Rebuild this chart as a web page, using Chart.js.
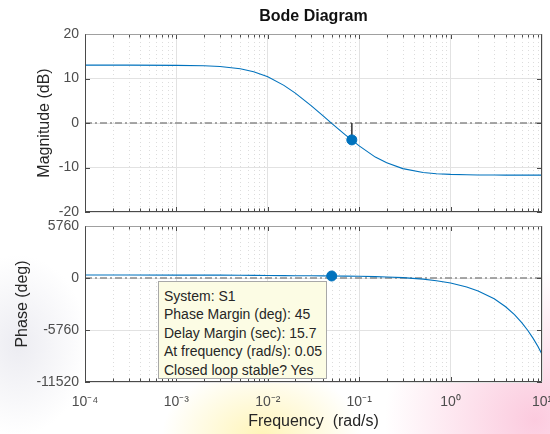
<!DOCTYPE html>
<html>
<head>
<meta charset="utf-8">
<script src="https://cdn.jsdelivr.net/npm/chart.js@4.4.1/dist/chart.umd.min.js"></script>
<style>
  html, body { margin:0; padding:0; }
  body {
    width:550px; height:434px; position:relative; overflow:hidden;
    background-color:#ffffff;
    background-image:
      radial-gradient(ellipse 100px 70px at 262px 436px, rgba(255,244,180,0.95), rgba(255,244,180,0) 100%),
      radial-gradient(ellipse 150px 150px at 535px 420px, rgba(251,196,218,0.9), rgba(251,196,218,0) 100%),
      radial-gradient(ellipse 70px 90px at 18px 345px, rgba(228,228,236,0.7), rgba(228,228,236,0) 100%);
  }
  canvas { position:absolute; left:0; }
  #c1 { top:0; }
  #c2 { top:220px; }
  #tip {
    position:absolute; left:158px; top:281px; width:169px; height:98px;
    background:#fcfce4; border:1px solid #a8a8a8;
    font-family:"Liberation Sans", Arial, sans-serif; font-size:14px; color:#262626;
    line-height:18.6px; padding:4.7px 0 0 5px; box-sizing:border-box;
    white-space:nowrap;
  }
</style>
</head>
<body>
<canvas id="c1" width="550" height="220"></canvas>
<canvas id="c2" width="550" height="214"></canvas>
<div id="tip">System: S1<br>Phase Margin (deg): 45<br>Delay Margin (sec): 15.7<br>At frequency (rad/s): 0.05<br>Closed loop stable? Yes</div>
<script>
// ---- data ----
const freqs = [0.0001, 0.0003, 0.001, 0.002, 0.003, 0.005, 0.007, 0.01, 0.015, 0.02, 0.03, 0.04, 0.05, 0.07,
               0.1, 0.15, 0.2, 0.3, 0.5, 0.7, 1, 1.5, 2, 3, 4, 5, 6, 7, 8, 9, 10];
const magnitudeDb = [13.0, 13.0, 12.96, 12.86, 12.69, 12.19, 11.53, 10.40, 8.46, 6.71, 3.84, 1.66, -0.07, -2.62,
                     -5.15, -7.66, -8.95, -10.25, -11.12, -11.40, -11.55, -11.63, -11.67, -11.70, -11.71, -11.71, -11.71, -11.71, -11.71, -11.71, -11.71];
const phaseDeg = [329, 328, 324, 318, 313, 303, 293, 282, 268, 257, 243, 232, 223, 208,
                  186, 151, 114, 37, -128, -298, -557, -992, -1429, -2304, -3181, -4057, -4934, -5810, -6687, -7564, -8441];
const decadeTicks = [0.0001, 0.001, 0.01, 0.1, 1, 10];
const decadeLabels = ['10\u207B\u2074', '10\u207B\u00B3', '10\u207B\u00B2', '10\u207B\u00B9', '10\u2070', '10\u00B9'];
const magTicks = [-20, -10, 0, 10, 20];
const phaseTicks = [-11520, -5760, 0, 5760];
const magMarker = {freq: 0.083, value: -3.8};
const phaseMarker = {freq: 0.05, value: 223};

const BLUE = '#0072BD';
const FONT = '"Liberation Sans", Arial, sans-serif';

const frame = {
  id: 'matlabFrame',
  beforeDraw(chart) {
    const {ctx, chartArea: a} = chart;
    ctx.save(); ctx.fillStyle = '#ffffff';
    ctx.fillRect(a.left, a.top, a.right - a.left, a.bottom - a.top);
    ctx.restore();
  },
  beforeDatasetsDraw(chart) {
    const {ctx, chartArea: a, scales} = chart;
    const xs = scales.x;
    ctx.save();
    ctx.strokeStyle = '#dcdcdc'; ctx.lineWidth = 1; ctx.setLineDash([1, 3]);
    for (let n = -4; n < 1; n++) {
      for (let k = 2; k <= 9; k++) {
        const px = Math.round(xs.getPixelForValue(k * Math.pow(10, n))) + 0.5;
        ctx.beginPath(); ctx.moveTo(px, a.top); ctx.lineTo(px, a.bottom); ctx.stroke();
      }
    }
    ctx.restore();
  },
  afterDatasetsDraw(chart) {
    const {ctx, chartArea: a, scales} = chart;
    const xs = scales.x, ys = scales.y;
    ctx.save();
    ctx.setLineDash([]);
    ctx.lineWidth = 1;
    ctx.strokeStyle = '#4a4a4a';
    for (let n = -4; n < 1; n++) {
      for (let k = 1; k <= 9; k++) {
        const v = k * Math.pow(10, n);
        const px = Math.round(xs.getPixelForValue(v)) + 0.5;
        const len = k === 1 ? 5 : 3.5;
        ctx.beginPath();
        ctx.moveTo(px, a.bottom); ctx.lineTo(px, a.bottom - len);
        ctx.moveTo(px, a.top); ctx.lineTo(px, a.top + len);
        ctx.stroke();
      }
    }
    ys.ticks.forEach(t => {
      const py = Math.round(ys.getPixelForValue(t.value)) + 0.5;
      ctx.beginPath();
      ctx.moveTo(a.left, py); ctx.lineTo(a.left + 5, py);
      ctx.moveTo(a.right, py); ctx.lineTo(a.right - 5, py);
      ctx.stroke();
    });
    const L = Math.round(a.left) + 0.5, R = Math.round(a.right) - 0.5;
    const T = Math.round(a.top) + 0.5, B = Math.round(a.bottom) - 0.5;
    ctx.strokeStyle = '#a0a0a0';
    ctx.beginPath(); ctx.moveTo(L, T); ctx.lineTo(R, T); ctx.stroke();
    ctx.strokeStyle = '#4a4a4a';
    ctx.beginPath(); ctx.moveTo(L, T); ctx.lineTo(L, B); ctx.lineTo(R, B); ctx.lineTo(R, T); ctx.stroke();
    ctx.restore();
  }
};

function pts(ys) { return freqs.map((f, i) => ({x: f, y: ys[i]})); }
function noPad(s) { s.paddingTop = 0; s.paddingBottom = 0; s.paddingLeft = 0; s.paddingRight = 0; }

function xScale(showLabels) {
  return {
    type: 'logarithmic', min: 0.0001, max: 10,
    afterBuildTicks: s => { s.ticks = decadeTicks.map(v => ({value: v})); },
    afterFit: s => { s.height = showLabels ? 52 : 8; noPad(s); },
    grid: { color: '#e2e2e2', lineWidth: 1, drawTicks: false },
    border: { display: false },
    ticks: {
      display: showLabels, autoSkip: false, maxRotation: 0, padding: 12,
      color: '#4d4d4d', font: { family: FONT, size: 14 },
      callback: (v) => { const i = decadeTicks.findIndex(d => Math.abs(d - v) / d < 1e-6); return i >= 0 ? decadeLabels[i] : ''; }
    },
    title: showLabels ? { display: true, text: 'Frequency  (rad/s)', color: '#262626',
      font: { family: FONT, size: 16 }, padding: { top: 0, bottom: 3 } } : { display: false }
  };
}

const zeroLine = (label) => ({
  label, data: [{x: 0.0001, y: 0}, {x: 10, y: 0}],
  borderColor: '#8c8c8c', borderWidth: 1.3, borderDash: [7, 3, 2, 3],
  pointRadius: 0, order: 5
});

new Chart(document.getElementById('c1'), {
  type: 'line',
  data: {
    datasets: [
      { label: 'marker', data: [{x: magMarker.freq, y: magMarker.value}], showLine: false,
        pointRadius: 5, pointBackgroundColor: BLUE, pointBorderColor: BLUE, order: 0 },
      { label: 'marker stem', data: [{x: magMarker.freq, y: 0}, {x: magMarker.freq, y: magMarker.value}],
        borderColor: '#404040', borderWidth: 1, pointRadius: 0, order: 1 },
      { label: 'Magnitude', data: pts(magnitudeDb), borderColor: BLUE, borderWidth: 1.1,
        pointRadius: 0, tension: 0, order: 2 },
      zeroLine('0 dB')
    ]
  },
  options: {
    responsive: false, devicePixelRatio: 1, animation: false,
    layout: { padding: { left: 0, right: 8, top: 0, bottom: 0 } },
    plugins: {
      legend: { display: false }, tooltip: { enabled: false },
      title: { display: true, text: 'Bode Diagram', fullSize: false, color: '#111111',
        font: { family: FONT, size: 16, weight: 'bold' }, padding: { top: 7, bottom: 7.8 } }
    },
    scales: {
      x: xScale(false),
      y: {
        min: -20, max: 20,
        afterBuildTicks: s => { s.ticks = magTicks.map(v => ({value: v})); },
        afterFit: s => { s.width = 85; noPad(s); },
        grid: { color: '#e2e2e2', drawTicks: false },
        border: { display: false },
        ticks: { padding: 6, color: '#4d4d4d', font: { family: FONT, size: 14 }, callback: v => String(v) },
        title: { display: true, text: 'Magnitude (dB)', color: '#262626',
          font: { family: FONT, size: 16 }, padding: { top: 35, bottom: 0 } }
      }
    }
  },
  plugins: [frame]
});

new Chart(document.getElementById('c2'), {
  type: 'line',
  data: {
    datasets: [
      { label: 'marker', data: [{x: phaseMarker.freq, y: phaseMarker.value}], showLine: false,
        pointRadius: 5, pointBackgroundColor: BLUE, pointBorderColor: BLUE, order: 0 },
      { label: 'Phase', data: pts(phaseDeg), borderColor: BLUE, borderWidth: 1.1,
        pointRadius: 0, tension: 0, order: 2 },
      zeroLine('0 deg')
    ]
  },
  options: {
    responsive: false, devicePixelRatio: 1, animation: false,
    layout: { padding: { left: 0, right: 8, top: 5, bottom: 0 } },
    plugins: { legend: { display: false }, tooltip: { enabled: false } },
    scales: {
      x: xScale(true),
      y: {
        min: -11520, max: 5760,
        afterBuildTicks: s => { s.ticks = phaseTicks.map(v => ({value: v})); },
        afterFit: s => { s.width = 85; noPad(s); },
        grid: { color: '#e2e2e2', drawTicks: false },
        border: { display: false },
        ticks: { padding: 6, color: '#4d4d4d', font: { family: FONT, size: 14 }, callback: v => String(v) },
        title: { display: true, text: 'Phase (deg)', color: '#262626',
          font: { family: FONT, size: 16 }, padding: { top: 13, bottom: 0 } }
      }
    }
  },
  plugins: [frame]
});
</script>
</body>
</html>
